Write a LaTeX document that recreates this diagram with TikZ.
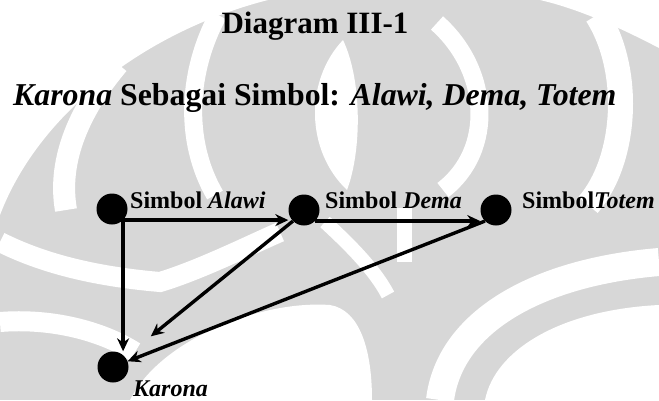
\documentclass[tikz,border=0pt]{standalone}
\usepackage{fontspec}
\setmainfont{Liberation Serif}
\usetikzlibrary{arrows.meta,calc}
\definecolor{wm}{gray}{0.845}
\tikzset{
  dot/.style={circle,fill=black,minimum size=31pt,inner sep=0pt},
  lbl/.style={font=\fontsize{24}{28}\selectfont\bfseries,anchor=base west,inner sep=0pt},
  head/.style={font=\fontsize{31}{36}\selectfont\bfseries,inner sep=0pt},
  arr/.style={line width=3.4pt,-{Stealth[length=13pt,width=12pt]}},
  wband/.style={draw=white,line width=#1},
}
\begin{document}
\begin{tikzpicture}[x=1pt,y=-1pt]
\useasboundingbox (0,0) rectangle (659,400);
% watermark
\fill[wm] (0,0) rectangle (659,400);
\fill[white] (0,0) -- (268,0) .. controls (150,30) and (40,110) .. (0,215) -- cycle;
\fill[white] (540,0) .. controls (575,8) and (615,25) .. (659,48) -- (659,0) -- cycle;
\draw[wband=22] (118,64) .. controls (75,115) and (58,165) .. (66,210);
\draw[wband=18] (218,15) .. controls (188,70) and (183,140) .. (215,195);
\fill[white] (343,40) .. controls (362,80) and (362,150) .. (347,190)
             .. controls (305,150) and (305,80) .. (343,40) -- cycle;
\draw[wband=18] (437,23) .. controls (490,70) and (495,150) .. (443,190);
\draw[wband=25] (597,15) .. controls (632,70) and (627,160) .. (588,205);
\draw[wband=20] (0,242) .. controls (40,262) and (90,276) .. (160,282)
                .. controls (200,270) and (250,245) .. (280,232);
\draw[wband=20] (0,322) .. controls (50,318) and (100,330) .. (135,352);
\fill[white] (130,400) .. controls (160,340) and (260,300) .. (330,305)
             .. controls (360,310) and (372,350) .. (372,400) -- cycle;
\draw[wband=14] (325,222) .. controls (350,245) and (375,270) .. (388,295);
\draw[wband=15] (404,208) -- (404,262);
\draw[wband=28] (440,400) .. controls (450,320) and (540,272) .. (659,262);
\fill[white] (485,400) .. controls (495,350) and (560,310) .. (659,305) -- (659,400) -- cycle;
% texts
\node[head,anchor=base] (title) at (315,33) {Diagram III-1};
\node[head,font=\fontsize{31.8}{36}\selectfont\bfseries,anchor=base west] (sub) at (13,105) {\textit{Karona} Sebagai Simbol: \textit{Alawi, Dema, Totem}};
% nodes
\node[dot] (alawi) at (112,209) {};
\node[dot] (dema) at (304,210) {};
\node[dot] (totem) at (496,210) {};
\node[dot] (karona) at (113,367) {};
\node[lbl] (la) at (130,208) {Simbol \textit{Alawi}};
\node[lbl] (ld) at (325,208) {Simbol \textit{Dema}};
\node[lbl] (lt) at (522,208) {Simbol\textit{Totem}};
\node[lbl] (lk) at (133,396) {\textit{Karona}};
% connectors
\draw[arr] (alawi.south east) -- (alawi.south east -| dema.west);
\draw[arr] (dema.south east) -- (dema.south east -| totem.west);
\draw[arr] (alawi.south east) -- (alawi.south east |- karona.north);
\draw[arr,shorten >=33pt] (dema.south west) -- (karona);
\draw[arr] (totem.south west) -- (karona);
\end{tikzpicture}
\end{document}
